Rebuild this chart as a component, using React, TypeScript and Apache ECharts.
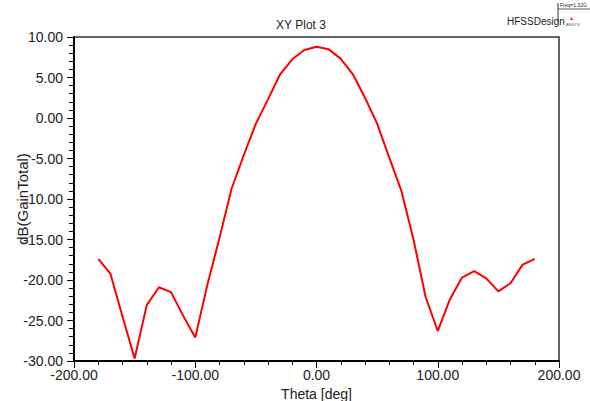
import React, { useEffect, useRef } from "react";
import * as echarts from "echarts";

const theta = [
  -180, -170, -160, -150, -140, -130, -120, -110, -100, -90, -80, -70, -60, -50, -40, -30, -20, -10, 0,
  10, 20, 30, 40, 50, 60, 70, 80, 90, 100, 110, 120, 130, 140, 150, 160, 170, 180,
];
const gainTotal = [
  -17.4, -19.2, -24.5, -29.7, -23.1, -20.9, -21.5, -24.4, -27.1, -20.6, -14.8, -8.7, -4.6, -0.7, 2.3, 5.4, 7.25, 8.4, 8.8,
  8.5, 7.3, 5.4, 2.5, -0.7, -4.9, -9.0, -15.0, -22.1, -26.3, -22.4, -19.7, -18.9, -19.8, -21.4, -20.4, -18.1, -17.4,
];

const FONT = '"Liberation Sans", Arial, sans-serif';

export default function App() {
  const ref = useRef<HTMLDivElement>(null);
  useEffect(() => {
    document.body.style.margin = "0";
    if (!ref.current) return;
    const chart = echarts.init(ref.current, undefined, { renderer: "svg" });
    chart.setOption({
      animation: false,
      backgroundColor: "#ffffff",
      title: {
        text: "XY Plot 3",
        left: 296,
        top: 14,
        textAlign: "center",
        textStyle: { fontFamily: FONT, fontSize: 12, fontWeight: "normal", color: "#222" },
      },
      grid: {
        left: 74,
        top: 37,
        width: 485,
        height: 324,
        show: true,
        borderColor: "#333",
        borderWidth: 1.5,
        containLabel: false,
        outerBoundsMode: "none",
      },
      graphic: [
        { type: "text", left: 507, top: 16, style: { text: "HFSSDesign", font: `10px ${FONT}`, fill: "#222" } },
        { type: "text", left: 560, top: 2, style: { text: "Freq=1.32G", font: `5px ${FONT}`, fill: "#222" } },
        { type: "line", shape: { x1: 558, y1: 3, x2: 558, y2: 22 }, style: { stroke: "#333", lineWidth: 1 } },
        { type: "line", shape: { x1: 558, y1: 9, x2: 590, y2: 9 }, style: { stroke: "#333", lineWidth: 0.8 } },
        { type: "text", left: 569, top: 15, style: { text: "▲", font: `5px ${FONT}`, fill: "#d22" } },
        { type: "text", left: 566, top: 22, style: { text: "ANSYS", font: `4px ${FONT}`, fill: "#555" } },
      ],
      xAxis: {
        type: "value",
        min: -200,
        max: 200,
        interval: 100,
        name: "Theta [deg]",
        nameLocation: "middle",
        nameGap: 26,
        nameMoveOverlap: false,
        nameTextStyle: { fontFamily: FONT, fontSize: 14, color: "#222" },
        axisLine: { show: true, onZero: false, lineStyle: { color: "#000", width: 2 } },
        axisTick: { show: true, length: 7, lineStyle: { color: "#000", width: 1 } },
        minorTick: { show: true, splitNumber: 5, length: 4, lineStyle: { color: "#000", width: 1 } },
        splitLine: { show: false },
        axisLabel: {
          fontFamily: FONT,
          fontSize: 14,
          color: "#222",
          margin: 7,
          formatter: (v: number) => v.toFixed(2),
        },
      },
      yAxis: {
        type: "value",
        min: -30,
        max: 10,
        interval: 5,
        name: "dB(GainTotal)",
        nameLocation: "middle",
        nameGap: 44,
        nameMoveOverlap: false,
        nameTextStyle: { fontFamily: FONT, fontSize: 15, color: "#222" },
        axisLine: { show: true, onZero: false, lineStyle: { color: "#000", width: 2 } },
        axisTick: { show: true, length: 7, lineStyle: { color: "#000", width: 1 } },
        minorTick: { show: true, splitNumber: 5, length: 5, lineStyle: { color: "#000", width: 1 } },
        splitLine: { show: false },
        axisLabel: {
          fontFamily: FONT,
          fontSize: 14,
          color: "#222",
          margin: 11,
          formatter: (v: number) => v.toFixed(2),
        },
      },
      series: [
        {
          type: "line",
          data: theta.map((t, i) => [t, gainTotal[i]]),
          showSymbol: false,
          lineStyle: { color: "#ff0000", width: 2 },
          itemStyle: { color: "#ff0000" },
        },
      ],
    });
    return () => chart.dispose();
  }, []);
  return <div ref={ref} style={{ width: 590, height: 401 }} />;
}
